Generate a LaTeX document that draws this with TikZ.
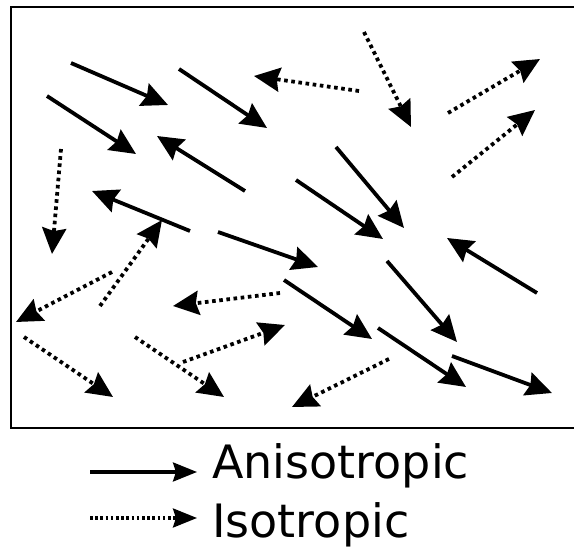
\documentclass[tikz,border=0pt]{standalone}
\usepackage{fontspec}
\setmainfont{DejaVu Sans}
\usetikzlibrary{arrows.meta}
\begin{document}
\begin{tikzpicture}[x=1pt,y=-1pt,
  aniso/.style={line width=3.8pt,-{Stealth[length=26pt,width=24pt,inset=3pt]}},
  iso/.style={line width=3.8pt,dash pattern=on 3.6pt off 3.6pt,-{Stealth[length=26pt,width=24pt,inset=3pt]}},
  lganiso/.style={line width=3.2pt,-{Stealth[length=24pt,width=19pt,inset=3pt]}},
  lgiso/.style={line width=3.2pt,dash pattern=on 2.6pt off 2.6pt,-{Stealth[length=24pt,width=19pt,inset=3pt]}},
  lbl/.style={inner sep=0pt,anchor=base west,font=\fontsize{46pt}{50pt}\selectfont}]
\useasboundingbox (0,0) rectangle (574,548);
\draw[line width=2pt] (580,7) -- (11,7) -- (11,428.5) -- (580,428.5);
% anisotropic
\draw[aniso] (71,63) -- (168,105);
\draw[aniso] (179,69) -- (267,128);
\draw[aniso] (47,96) -- (136,154);
\draw[aniso] (245,191) -- (157,136);
\draw[aniso] (190,231) -- (92,191);
\draw[aniso] (218,232) -- (318,267);
\draw[aniso] (336,147) -- (404,228);
\draw[aniso] (296,180) -- (383,239);
\draw[aniso] (537,293) -- (447,238);
\draw[aniso] (387,261) -- (457,342);
\draw[aniso] (284,280) -- (372,339);
\draw[aniso] (378,328) -- (466,387);
\draw[aniso] (452,356) -- (552,393);
% isotropic
\draw[iso] (359,91) -- (254,76);
\draw[iso] (364,32) -- (411,127);
\draw[iso] (448,113) -- (540,59);
\draw[iso] (452,177) -- (535,110);
\draw[iso] (61,149) -- (52,254);
\draw[iso] (100,306) -- (162,220);
\draw[iso] (112,272) -- (16,322);
\draw[iso] (280,293) -- (173,306);
\draw[iso] (24,337) -- (113,397);
\draw[iso] (135,337) -- (224,397);
\draw[iso] (183,362) -- (285,325);
\draw[iso] (389,359) -- (292,407);
% legend
\coordinate (la) at (90,472);
\coordinate (lb) at (197,472);
\coordinate (lc) at (90,518);
\coordinate (ld) at (197,518);
\draw[lganiso] (la) -- (lb);
\draw[lgiso] (lc) -- (ld);
\node[lbl] (ta) at (212,479) {Anisotropic};
\node[lbl] (tb) at (212,538) {Isotropic};
\end{tikzpicture}
\end{document}
